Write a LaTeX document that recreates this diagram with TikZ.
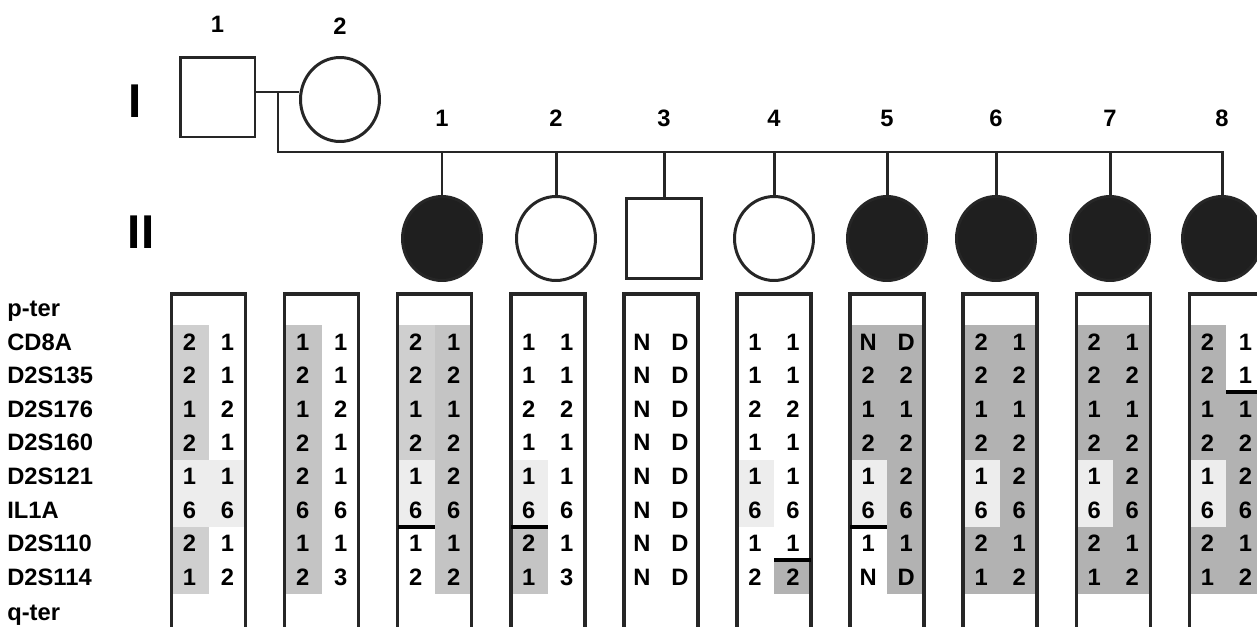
\documentclass[tikz,border=0pt]{standalone}
\usepackage{fontspec}
\setmainfont{Liberation Sans}
\usepackage{tikz}
\usetikzlibrary{positioning, shapes.geometric}
\definecolor{cinzaP}{gray}{0.81}
\definecolor{cinzaM}{gray}{0.77}
\definecolor{cinzaE}{gray}{0.70}
\definecolor{cinzaC}{gray}{0.93}

\begin{document}
\begin{tikzpicture}[
    x=0.02cm, y=-0.02cm,
    linha/.style={line width=1.7pt, color=black!85},
    homem/.style={
        rectangle, draw=black!85, line width=1.7pt, fill=white,
        minimum width=1.5cm, minimum height=1.6cm, inner sep=0pt
    },
    mulher/.style={
        ellipse, draw=black!85, line width=1.7pt, fill=white,
        minimum width=1.58cm, minimum height=1.68cm, inner sep=0pt
    },
    afetada/.style={mulher, fill=black!88},
    num/.style={font=\fontsize{13.5}{15}\selectfont\bfseries, inner sep=0pt},
    geracao/.style={font=\fontsize{27}{30}\selectfont\bfseries, inner sep=0pt},
    marcador/.style={font=\fontsize{13.5}{15}\selectfont\bfseries, anchor=base west, inner sep=0pt},
    alelo/.style={font=\fontsize{13.5}{15}\selectfont\bfseries, inner sep=0pt},
    caixa/.style={
        rectangle, draw=black!85, line width=2pt, anchor=north,
        minimum width=1.48cm, minimum height=7cm, inner sep=0pt
    },
    quebra/.style={line width=2.2pt, color=black}
]
\useasboundingbox (0,0) rectangle (1257,626);

% geracao I
\node[geracao] (gI) at (135,101) {I};
\node[geracao] (gII) at (141,232) {II};
\node[homem] (I1) at (217.5,97) {};
\node[mulher] (I2) at (340,99.5) {};
\node[num, above=0.45cm of I1] (nI1) {1};
\node[num, above=0.42cm of I2] (nI2) {2};
\coordinate (casal) at (278,92);
\coordinate (irmaos) at (278,152);
\draw[linha] (I1.east |- casal) -- (I2.west |- casal);

% geracao II
\foreach \k/\x/\s in {1/442/afetada, 2/556/mulher, 3/664/homem, 4/774/mulher,
                      5/887/afetada, 6/996/afetada, 7/1110/afetada, 8/1222/afetada} {
    \node[\s] (II\k) at (\x,238.5) {};
    \node[num] (n\k) at (\x,118) {\k};
}
\draw[linha] (casal) -- (irmaos) -- (II8.north |- irmaos) -- (II8.north);
\foreach \k in {1,...,7}
    \draw[linha] (II\k.north |- irmaos) -- (II\k.north);

% marcadores
\node[marcador] (pter) at (7,316) {p-ter};
\foreach \m [count=\r] in {CD8A, D2S135, D2S176, D2S160, D2S121, IL1A, D2S110, D2S114}
    \node[marcador] (m\r) at (7,{350+33.6*(\r-1)}) {\m};
\node[marcador] (qter) at (7,620) {q-ter};

% haplotipos sombreados
\foreach \k/\c/\a/\b/\cor in {1/0/1/4/cinzaP, 1/0/5/6/cinzaC, 1/1/5/6/cinzaC, 1/0/7/8/cinzaP,
        2/0/1/8/cinzaM,
        3/0/1/4/cinzaP, 3/0/5/6/cinzaC, 3/1/1/8/cinzaM,
        4/0/5/6/cinzaC, 4/0/7/8/cinzaM,
        6/0/5/6/cinzaC, 6/1/8/8/cinzaE,
        7/0/1/4/cinzaE, 7/0/5/6/cinzaC, 7/1/1/8/cinzaE,
        8/0/1/4/cinzaE, 8/0/5/6/cinzaC, 8/0/7/8/cinzaE, 8/1/1/8/cinzaE,
        9/0/1/4/cinzaE, 9/0/5/6/cinzaC, 9/0/7/8/cinzaE, 9/1/1/8/cinzaE,
        10/0/1/4/cinzaE, 10/0/5/6/cinzaC, 10/0/7/8/cinzaE, 10/1/3/8/cinzaE} {
    \pgfmathsetmacro\cx{208.5+113.1*(\k-1)}
    \fill[\cor] ({\cx-37+37*\c},{325.2+33.6*(\a-1)}) rectangle ({\cx+37*\c},{325.2+33.6*\b});
}

% caixas e alelos
\foreach \k/\esq/\dir in {
        1/{2,2,1,2,1,6,2,1}/{1,1,2,1,1,6,1,2},
        2/{1,2,1,2,2,6,1,2}/{1,1,2,1,1,6,1,3},
        3/{2,2,1,2,1,6,1,2}/{1,2,1,2,2,6,1,2},
        4/{1,1,2,1,1,6,2,1}/{1,1,2,1,1,6,1,3},
        5/{N,N,N,N,N,N,N,N}/{D,D,D,D,D,D,D,D},
        6/{1,1,2,1,1,6,1,2}/{1,1,2,1,1,6,1,2},
        7/{N,2,1,2,1,6,1,N}/{D,2,1,2,2,6,1,D},
        8/{2,2,1,2,1,6,2,1}/{1,2,1,2,2,6,1,2},
        9/{2,2,1,2,1,6,2,1}/{1,2,1,2,2,6,1,2},
        10/{2,2,1,2,1,6,2,1}/{1,1,1,2,2,6,1,2}} {
    \pgfmathsetmacro\cx{208.5+113.1*(\k-1)}
    \node[caixa] (h\k) at (\cx,292) {};
    \foreach \v [count=\r] in \esq
        \node[alelo] (a\k l\r) at ({\cx-19},{342+33.6*(\r-1)}) {\v};
    \foreach \v [count=\r] in \dir
        \node[alelo] (a\k r\r) at ({\cx+19},{342+33.6*(\r-1)}) {\v};
}

% recombinacoes
\foreach \k/\c/\r in {3/0/6, 4/0/6, 6/1/7, 7/0/6, 10/1/2} {
    \pgfmathsetmacro\cx{208.5+113.1*(\k-1)}
    \draw[quebra] ({\cx-37+37*\c},{325.2+33.6*\r}) -- ({\cx+37*\c},{325.2+33.6*\r});
}
\end{tikzpicture}
\end{document}
